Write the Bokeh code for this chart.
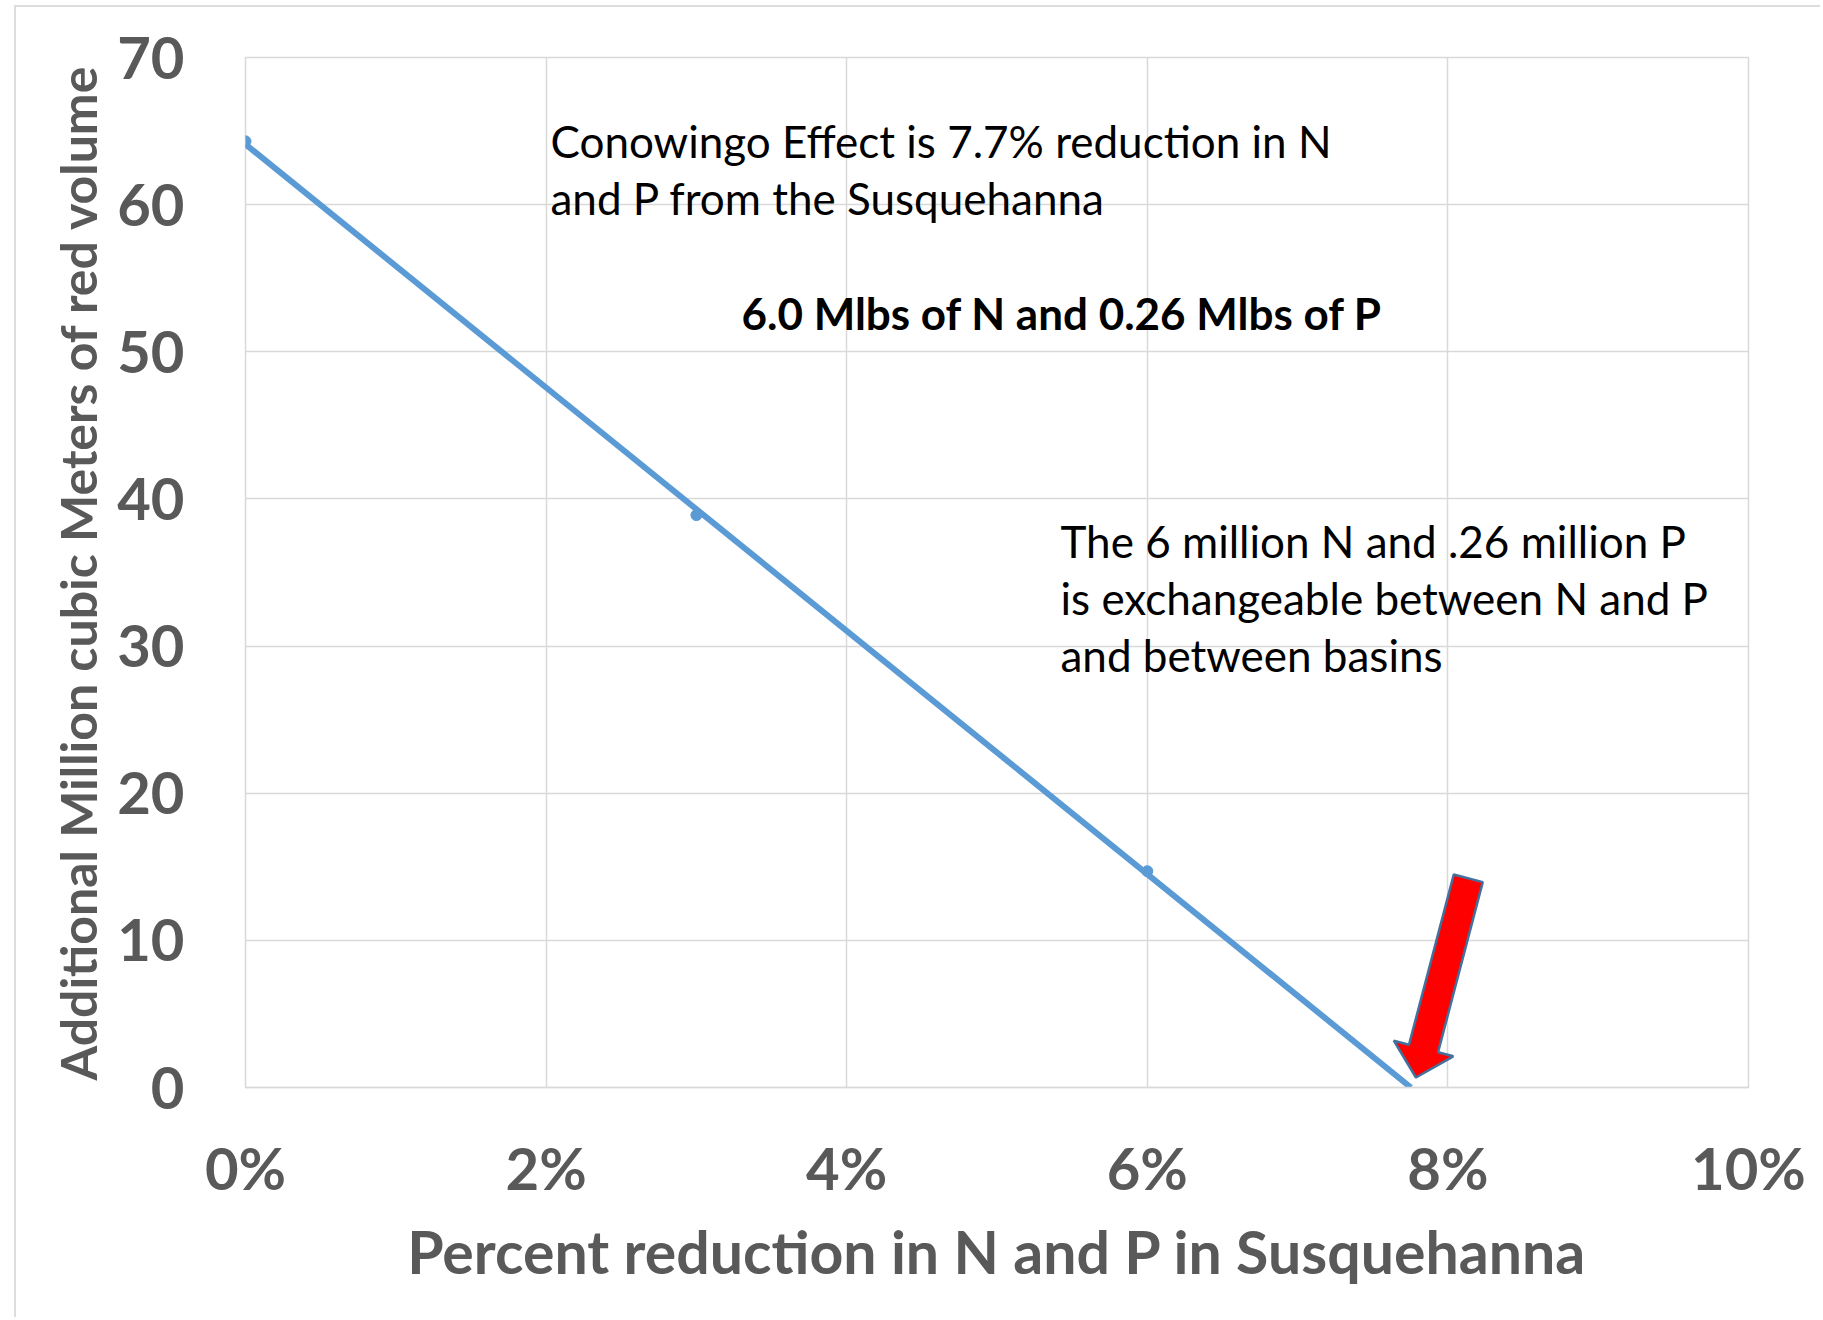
import numpy as np
from bokeh.plotting import figure
from bokeh.models import Label, NumeralTickFormatter, FixedTicker, Range1d
from bokeh.embed import file_html
from bokeh.resources import INLINE

# ---- data ----
pct_reduction = [0.0, 0.03, 0.06]          # fraction reduction in N and P
added_volume = [64.3, 38.9, 14.7]          # additional million m^3 of red volume
x_ticks = [0.0, 0.02, 0.04, 0.06, 0.08, 0.10]
y_ticks = [0, 10, 20, 30, 40, 50, 60, 70]

x_title = "Percent reduction in N and P in Susquehanna"
y_title = "Additional Million cubic Meters of red volume"
note1 = ["Conowingo Effect is 7.7% reduction in N", "and P from the Susquehanna"]
note_bold = "6.0 Mlbs of N and 0.26 Mlbs of P"
note2 = ["The 6 million N and .26 million P",
         "is exchangeable between N and P",
         "and between basins"]

# linear trend through the data, extended to the zero crossing
slope, intercept = np.polyfit(pct_reduction, added_volume, 1)
x_zero = -intercept / slope
trend_x = [0.0, x_zero]
trend_y = [intercept, 0.0]

FW, FH = 1503, 1030
XMAX, YMAX = 0.10, 70
px_x = XMAX / FW
px_y = YMAX / FH
LEFT0, TOP0 = 245, 57      # frame position on the page

FONT = "Lato"
GRAY = "#595959"
GRID = "#D9D9D9"
BLUE = "#5B9BD5"

p = figure(frame_width=FW, frame_height=FH,
           x_range=Range1d(0, XMAX), y_range=Range1d(0, YMAX),
           min_border_left=LEFT0 - 16, min_border_top=TOP0 - 7,
           min_border_right=72, min_border_bottom=230,
           output_backend="svg", toolbar_location=None,
           background_fill_color="white", border_fill_color="white")
p.styles = {"margin-left": "14px", "margin-top": "5px",
            "border-left": "2px solid #DDDDDD", "border-top": "2px solid #DDDDDD"}

p.outline_line_color = GRID
p.outline_line_width = 1.5

p.xaxis.ticker = FixedTicker(ticks=x_ticks)
p.yaxis.ticker = FixedTicker(ticks=y_ticks)
p.xaxis.formatter = NumeralTickFormatter(format="0%")
for ax in (p.xaxis, p.yaxis):
    ax.major_tick_line_color = None
    ax.minor_tick_line_color = None
    ax.major_label_text_font = FONT
    ax.major_label_text_font_style = "bold"
    ax.major_label_text_font_size = "58px"
    ax.major_label_text_color = GRAY
    ax.axis_label_text_font = FONT
    ax.axis_label_text_font_style = "bold"
    ax.axis_label_text_color = GRAY
p.xaxis.axis_label_text_font_size = "59px"
p.yaxis.axis_label_text_font_size = "50px"
p.xaxis.axis_line_color = GRID
p.xaxis.axis_line_width = 1.5
p.yaxis.axis_line_color = None
p.xaxis.major_label_standoff = 39
p.yaxis.major_label_standoff = 55
p.xaxis.axis_label = x_title
p.yaxis.axis_label = y_title
p.xaxis.axis_label_standoff = 11
p.yaxis.axis_label_standoff = 6

p.xgrid.grid_line_color = GRID
p.ygrid.grid_line_color = GRID
p.xgrid.grid_line_width = 1.5
p.ygrid.grid_line_width = 1.5

p.line(trend_x, trend_y, line_color=BLUE, line_width=6)
p.scatter(pct_reduction, added_volume, size=11, color=BLUE)

# red arrow pointing at the zero crossing (geometry in screen pixels)
tip_x, tip_y = x_zero + 5 * px_x, 10 * px_y
u = np.array([0.254, -0.967])   # from tip toward tail (screen, y down)
n = np.array([0.967, 0.254])
L_total, L_head, hw_shaft, hw_head = 206, 30, 15, 30.75
pts = [np.zeros(2),
       L_head * u + hw_head * n,
       L_head * u + hw_shaft * n,
       L_total * u + hw_shaft * n,
       L_total * u - hw_shaft * n,
       L_head * u - hw_shaft * n,
       L_head * u - hw_head * n]
ax_ = [tip_x + q[0] * px_x for q in pts]
ay_ = [tip_y - q[1] * px_y for q in pts]
p.patch(ax_, ay_, fill_color="#FF0000", line_color="#41719C", line_width=2.5)

def px2x(px):
    return (px - LEFT0) * px_x

def px2y(py):
    return (TOP0 + FH - py) * px_y

FS = 44
SHIFT = 0.43 * FS
for i, t in enumerate(note1):
    p.add_layout(Label(x=px2x(550), y=px2y(159 + 57 * i - SHIFT), text=t,
                       text_font=FONT, text_font_size=f"{FS}px", text_color="black",
                       text_baseline="alphabetic"))
p.add_layout(Label(x=px2x(741), y=px2y(331 - SHIFT), text=note_bold,
                   text_font=FONT, text_font_size=f"{FS}px", text_font_style="bold",
                   text_color="black", text_baseline="alphabetic"))
for i, t in enumerate(note2):
    p.add_layout(Label(x=px2x(1060), y=px2y(559 + 57 * i - SHIFT), text=t,
                       text_font=FONT, text_font_size=f"{FS}px", text_color="black",
                       text_baseline="alphabetic"))

open("out.html", "w").write(file_html(p, INLINE))
